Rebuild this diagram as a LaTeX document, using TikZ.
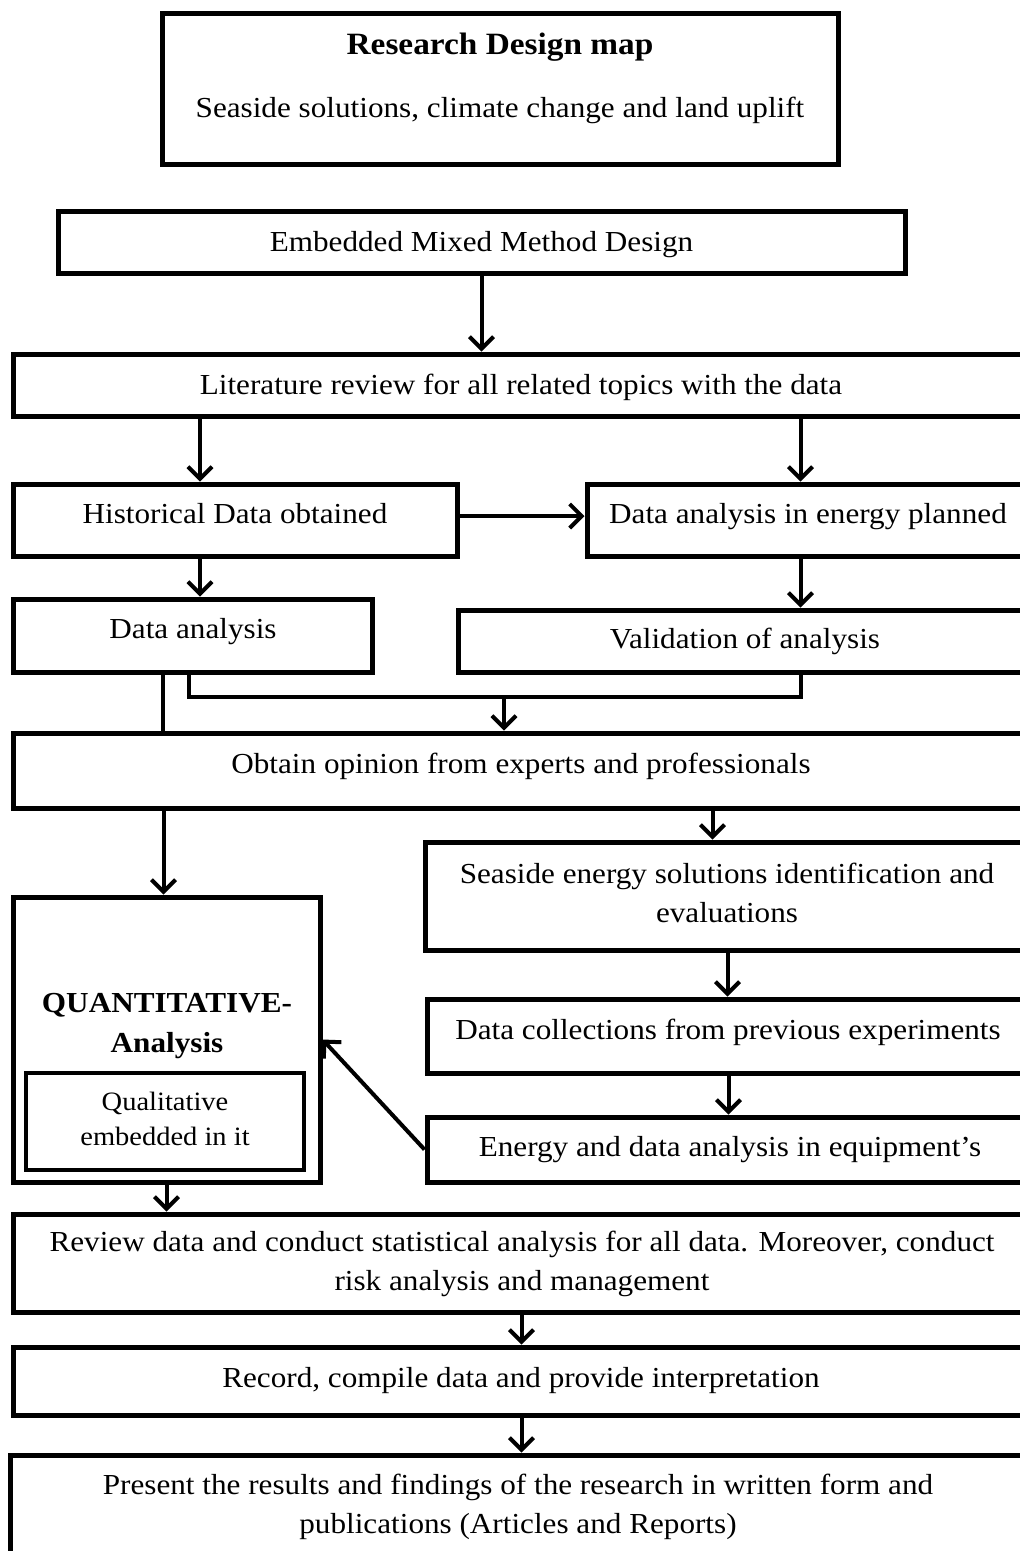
\documentclass[tikz,border=0pt]{standalone}
\usepackage{fontspec}
\setmainfont{Liberation Serif}[FakeStretch=1.075]
\usetikzlibrary{arrows.meta}
\begin{document}
\begin{tikzpicture}[x=1pt,y=-1pt,
  box/.style={draw, line width=5pt, inner sep=0pt},
  txt/.style={inner sep=0pt, align=center, font=\fontsize{29}{39}\selectfont},
  small/.style={inner sep=0pt, align=center, font=\fontsize{26.5}{35}\selectfont},
  arr/.style={line width=4pt, -{Straight Barb[length=12pt,width=24pt,line width=4pt]}},
  ln/.style={line width=4pt}]
\useasboundingbox (0,0) rectangle (1020,1551);
\clip (0,0) rectangle (1020,1551);

% boxes (centre, width, height)
\node[box, minimum width=676, minimum height=151] (title) at (500,88.5) {};
\node[box, minimum width=847, minimum height=62] (emb) at (481.5,242) {};
\node[box, minimum width=1017, minimum height=62] (lit) at (521.5,385) {};
\node[box, minimum width=444, minimum height=72] (hist) at (235,520) {};
\node[box, minimum width=443, minimum height=72] (en) at (808.5,520) {};
\node[box, minimum width=359, minimum height=73] (da) at (192.5,635.5) {};
\node[box, minimum width=572, minimum height=62] (val) at (744,641) {};
\node[box, minimum width=1017, minimum height=75] (obt) at (521.5,770.5) {};
\node[box, minimum width=307, minimum height=285] (quant) at (166.5,1039.5) {};
\node[box, line width=4.5pt, minimum width=278, minimum height=97] (qual) at (165,1121.5) {};
\node[box, minimum width=605, minimum height=108] (sea) at (727.5,896) {};
\node[box, minimum width=603, minimum height=74] (dc) at (728.5,1036) {};
\node[box, minimum width=603, minimum height=65] (eda) at (728.5,1149.5) {};
\node[box, minimum width=1017, minimum height=98] (rev) at (521.5,1263) {};
\node[box, minimum width=1017, minimum height=68] (rec) at (521.5,1381) {};
\node[box, minimum width=1020, minimum height=105] (pres) at (520,1507.5) {};

% texts
\node[txt, anchor=base, font=\bfseries\fontsize{31}{39}\selectfont] (t-title1) at (500,54) {Research Design map};
\node[txt, anchor=base] (t-title2) at (500,117) {Seaside solutions, climate change and land uplift};
\node[txt, anchor=base] (t-emb) at (481.5,251) {Embedded Mixed Method Design};
\node[txt, anchor=base] (t-lit) at (521,394) {Literature review for all related topics with the data};
\node[txt, anchor=base] (t-hist) at (235,523) {Historical Data obtained};
\node[txt, anchor=base] (t-en) at (808,523) {Data analysis in energy planned};
\node[txt, anchor=base] (t-da) at (193,638) {Data analysis};
\node[txt, anchor=base] (t-val) at (745,648) {Validation of analysis};
\node[txt, anchor=base] (t-obt) at (521,773) {Obtain opinion from experts and professionals};
\node[txt] (t-sea) at (727,893) {Seaside energy solutions identification and\\evaluations};
\node[txt, anchor=base, font=\bfseries\fontsize{29}{39}\selectfont] (t-q1) at (167,1012) {QUANTITATIVE-};
\node[txt, anchor=base, font=\bfseries\fontsize{29}{39}\selectfont] (t-q2) at (167,1052) {Analysis};
\node[small, anchor=base] (t-qual1) at (165,1110) {Qualitative};
\node[small, anchor=base] (t-qual2) at (165,1145) {embedded in it};
\node[txt, anchor=base] (t-dc) at (728,1039) {Data collections from previous experiments};
\node[txt, anchor=base] (t-eda) at (730,1156) {Energy and data analysis in equipment’s};
\node[txt] (t-rev) at (522,1264) {Review data and conduct statistical analysis for all data. Moreover, conduct\\risk analysis and management};
\node[txt, anchor=base] (t-rec) at (521,1387) {Record, compile data and provide interpretation};
\node[txt] (t-pres) at (518,1507) {Present the results and findings of the research in written form and\\publications (Articles and Reports)};

% connectors
\draw[arr] (emb.south) -- (emb.south |- lit.north);
\draw[arr] ([xshift=-35pt]hist.north |- lit.south) -- ([xshift=-35pt]hist.north);
\draw[arr] ([xshift=-8pt]en.north |- lit.south) -- ([xshift=-8pt]en.north);
\draw[arr] ([yshift=4pt]hist.east) -- ([yshift=4pt]en.west |- hist.east);
\draw[arr] ([xshift=-35pt]hist.south) -- ([xshift=-35pt]hist.south |- da.north);
\draw[arr] ([xshift=-8pt]en.south) -- ([xshift=-8pt]en.south |- val.north);
\coordinate (join) at (504,697);
\draw[ln, line join=miter] ([xshift=-8pt]en.south |- val.south) |- (join) -| ([xshift=-4pt]da.south);
\draw[arr] (join) -- (join |- obt.north);
\draw[ln] ([xshift=-30pt]da.south) -- ([xshift=-30pt]da.south |- obt.north);
\draw[arr] ([xshift=-3pt]quant.north |- obt.south) -- ([xshift=-3pt]quant.north);
\draw[arr] ([xshift=-15pt]sea.north |- obt.south) -- ([xshift=-15pt]sea.north);
\draw[arr] (sea.south) -- (sea.south |- dc.north);
\draw[arr] (dc.south) -- (dc.south |- eda.north);
\draw[arr] (eda.west) -- (quant.east);
\draw[arr] (quant.south) -- (quant.south |- rev.north);
\draw[arr] (rev.south) -- (rev.south |- rec.north);
\draw[arr] (rec.south) -- (rec.south |- pres.north);
\end{tikzpicture}
\end{document}
